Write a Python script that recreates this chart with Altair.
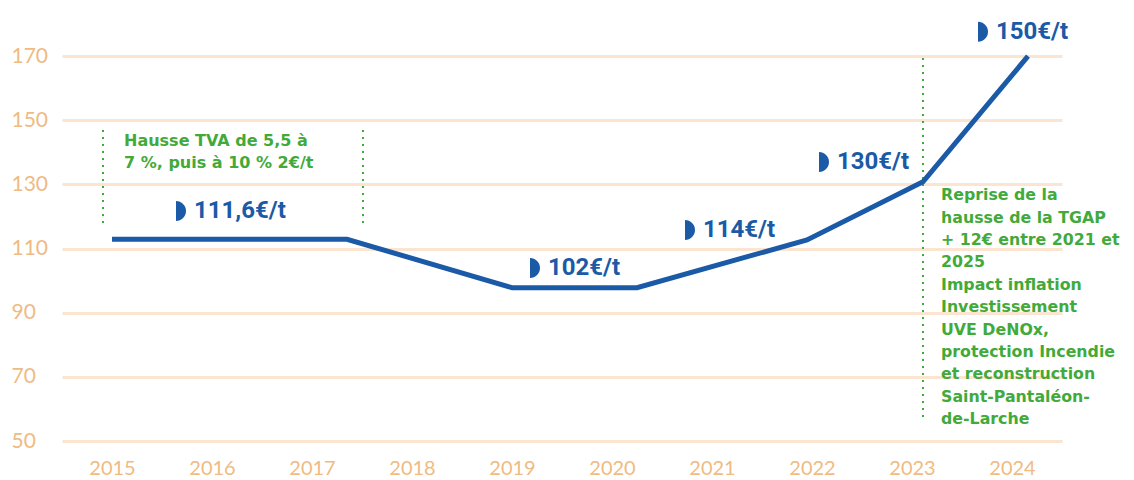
import altair as alt
import pandas as pd

# ---- data ----
years = [2015, 2016, 2017, 2018, 2019, 2020, 2021, 2022, 2023, 2024]
y_ticks = [50, 70, 90, 110, 130, 150, 170]

line_x = [2015.0, 2017.35, 2019.0, 2020.25, 2021.95, 2023.11, 2024.16]
line_y = [112.9, 112.9, 97.8, 97.8, 112.7, 130.8, 170.0]

price_labels = ["111,6€/t", "102€/t", "114€/t", "130€/t", "150€/t"]
label_x = [2015.69, 2019.23, 2020.78, 2022.12, 2023.71]
label_y = [121.7, 103.9, 115.8, 137.0, 177.6]

guide_x = [2014.91, 2017.51, 2023.11]
guide_y1 = [118.0, 118.0, 57.5]
guide_y2 = [147.7, 147.7, 169.4]

note_left = ["Hausse TVA de 5,5 à", "7 %, puis à 10 % 2€/t"]
note_left_x = [2015.12]
note_left_y = [142.0]

note_right = [
    "Reprise de la",
    "hausse de la TGAP",
    "+ 12€ entre 2021  et",
    "2025",
    "Impact inflation",
    "Investissement",
    "UVE DeNOx,",
    "protection Incendie",
    "et reconstruction",
    "Saint-Pantaléon-",
    "de-Larche",
]
note_right_x = [2023.29]
note_right_y = [125.1]

# ---- styles ----
BLUE = "#1B5AA6"
GREEN = "#42AA3A"
AXIS_TXT = "#EFBB82"
GRID = "#FBE5D1"

line_df = pd.DataFrame({"x": line_x, "y": line_y})
lab_df = pd.DataFrame({"x": label_x, "y": label_y, "t": price_labels})
guide_df = pd.DataFrame({"x": guide_x, "y": guide_y1, "y2": guide_y2})
nl_df = pd.DataFrame({"x": note_left_x, "y": note_left_y})
nr_df = pd.DataFrame({"x": note_right_x, "y": note_right_y})

x_scale = alt.Scale(domain=[2014.5, 2024.5], nice=False, zero=False)
y_scale = alt.Scale(domain=[50, 185], nice=False, zero=False)

x_axis = alt.Axis(
    values=years, format="d", grid=False, domain=False, ticks=False,
    labelFont="Lato", labelFontWeight=400, labelFontSize=20,
    labelColor=AXIS_TXT, labelPadding=17, title=None,
)
y_axis = alt.Axis(
    values=y_ticks, grid=True, gridColor=GRID, gridWidth=3,
    domain=False, ticks=False, labelAlign="left", labelBaseline="middle",
    labelPadding=51, labelFont="Lato", labelFontWeight=400,
    labelFontSize=21, labelColor=AXIS_TXT, title=None,
)

X = alt.X("x:Q", scale=x_scale, axis=x_axis)
Y = alt.Y("y:Q", scale=y_scale, axis=y_axis)

guides = alt.Chart(guide_df).mark_rule(
    color=GREEN, strokeWidth=2, strokeDash=[2, 5]
).encode(x=X, y=Y, y2="y2:Q")

line = alt.Chart(line_df).mark_line(
    color=BLUE, strokeWidth=5, strokeJoin="miter"
).encode(x=X, y=Y)

disks = alt.Chart(lab_df).mark_point(
    shape="M-0.5,-1 A1,1 0 0,1 -0.5,1 Z", size=400,
    filled=True, color=BLUE, opacity=1, strokeWidth=0,
).encode(x=X, y=Y)

labels = alt.Chart(lab_df).mark_text(
    align="left", baseline="middle", dx=13,
    font="Roboto, sans-serif", fontWeight="bold",
    fontSize=24, color=BLUE,
).encode(x=X, y=Y, text="t:N")

left_note = alt.Chart(nl_df).mark_text(
    text=note_left, align="left", baseline="alphabetic", lineHeight=22.5,
    font="DejaVu Sans", fontWeight="bold", fontSize=16, color=GREEN,
).encode(x=X, y=Y)

right_note = alt.Chart(nr_df).mark_text(
    text=note_right, align="left", baseline="alphabetic", lineHeight=22.4,
    font="DejaVu Sans", fontWeight="bold", fontSize=15.8, color=GREEN,
).encode(x=X, y=Y)

chart = alt.layer(guides, line, disks, labels, left_note, right_note).properties(
    width=1000, height=433,
    autosize=alt.AutoSizeParams(type="none"),
    padding={"left": 54, "top": 0, "right": 64, "bottom": 38},
).configure_view(stroke=None)

chart.save("out.html", embed_options={"renderer": "svg", "actions": False})
